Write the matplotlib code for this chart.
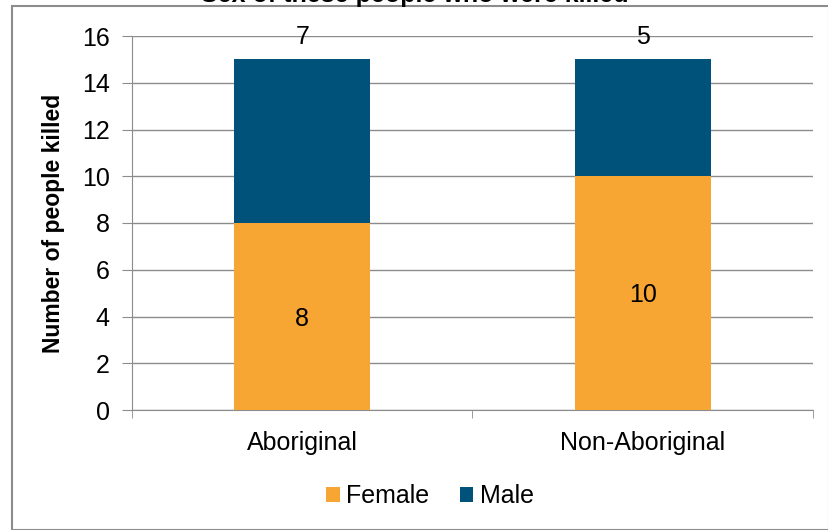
import matplotlib.pyplot as plt
from matplotlib.patches import Rectangle

plt.rcParams['font.family'] = ['Liberation Sans', 'DejaVu Sans']

groups = ['Aboriginal', 'Non-Aboriginal']
female = [8, 10]
male = [7, 5]
title = 'Sex of these people who were killed'

orange = '#F7A533'
navy = '#00527A'
grey = '#8C8C8C'

fig = plt.figure(figsize=(8.29, 5.30), dpi=100)
ax = fig.add_axes([132/829, 1 - 410/530, 681/829, 374/530])

x = range(len(groups))
ax.bar(x, female, width=0.4, color=orange, label='Female', zorder=3)
ax.bar(x, male, width=0.4, bottom=female, color=navy, label='Male', zorder=3)

for i in x:
    ax.text(i, female[i] / 2 - 0.1, str(female[i]), ha='center', va='center', fontsize=18)
    ax.text(i, female[i] + male[i] + 0.95, str(male[i]), ha='center', va='center', fontsize=18)

ax.set_xlim(-0.5, 1.5)
ax.set_ylim(0, 16)
ax.set_yticks(range(0, 17, 2))
ax.set_xticks(list(x))
ax.set_xticklabels(groups, fontsize=18)
ax.set_xticks([-0.5, 0.5, 1.5], minor=True)
ax.tick_params(axis='x', which='major', length=0, pad=15)
ax.tick_params(axis='x', which='minor', length=6, color=grey, direction='out')
ax.tick_params(axis='y', labelsize=18, length=7, color=grey, direction='out', pad=9)

ax.grid(axis='y', color=grey, linewidth=1, zorder=0)
for s in ['top', 'right']:
    ax.spines[s].set_visible(False)
for s in ['left', 'bottom']:
    ax.spines[s].set_color(grey)
ax.set_ylabel('Number of people killed', fontsize=16.5, fontweight='bold', labelpad=12)

ax.legend(loc='center', bbox_to_anchor=(430 / 829, (530 - 496) / 530), bbox_transform=fig.transFigure,
          ncol=2, frameon=False, fontsize=18, handlelength=0.55, handleheight=0.55,
          handletextpad=0.25, columnspacing=1.2)

# title is cropped at the top edge, as in the source image
fig.text(0.5, 1 - 2/530, title, ha='center', va='baseline', fontsize=18, fontweight='bold')
fig.patches.append(Rectangle((12/829, 0), 817/829, 1 - 6/530, transform=fig.transFigure,
                             fill=False, edgecolor=grey, linewidth=1.5))

fig.savefig('out.png', dpi=100)
